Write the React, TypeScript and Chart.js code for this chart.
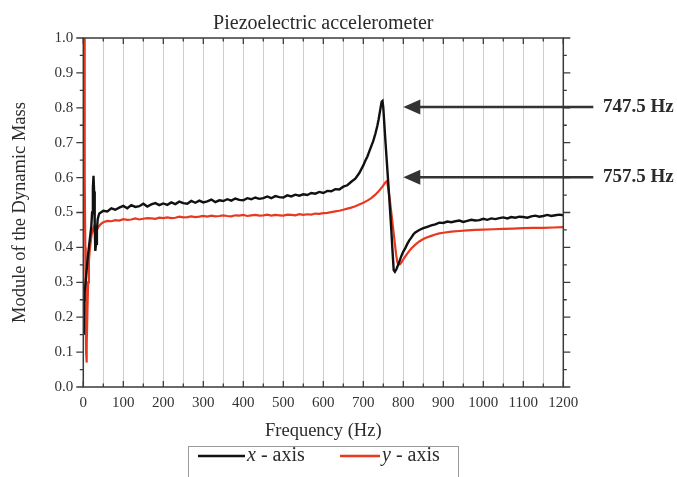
import React, { useEffect, useRef } from "react";
import { Chart, registerables } from "chart.js";

Chart.register(...registerables);

// ---- data ----
const xAxisFreq = [
  1.5, 2, 3, 5, 8, 11, 14, 17, 20, 22, 24, 25.5, 27, 28.5, 30, 32, 34, 36, 38,
  40, 50, 60, 70, 80, 90, 100, 110, 120, 130, 140, 150, 160, 170, 180, 190, 200,
  210, 220, 230, 240, 250, 260, 270, 280, 290, 300, 310, 320, 330, 340, 350, 360,
  370, 380, 390, 400, 410, 420, 430, 440, 450, 460, 470, 480, 490, 500, 510, 520,
  530, 540, 550, 560, 570, 580, 590, 600, 610, 620, 630, 640, 650, 660, 670, 680,
  690, 700, 705, 710, 715, 720, 725, 730, 735, 738, 741, 744, 746, 748, 750, 755,
  760, 765, 770, 773, 776, 779, 783, 787, 791, 795, 800, 805, 810, 815, 820, 825,
  830, 840, 850, 860, 870, 880, 890, 900, 910, 920, 930, 940, 950, 960, 970, 980,
  990, 1000, 1010, 1020, 1030, 1040, 1050, 1060, 1070, 1080, 1090, 1100, 1110,
  1120, 1130, 1140, 1150, 1160, 1170, 1180, 1190, 1200,
];
const xAxisModule = [
  0.15, 0.25, 0.27, 0.29, 0.33, 0.37, 0.4, 0.43, 0.46, 0.5, 0.57, 0.605, 0.56,
  0.47, 0.39, 0.41, 0.45, 0.48, 0.49,
  0.497, 0.505, 0.503, 0.512, 0.508, 0.514, 0.519, 0.512, 0.521, 0.516, 0.518,
  0.525, 0.517, 0.523, 0.527, 0.521, 0.526, 0.522, 0.529, 0.524, 0.531, 0.527,
  0.525, 0.533, 0.528, 0.534, 0.529, 0.532, 0.537, 0.53, 0.535, 0.533, 0.538,
  0.534, 0.54, 0.536, 0.535, 0.541, 0.538, 0.543, 0.539, 0.541, 0.546, 0.541,
  0.547, 0.544, 0.543, 0.549, 0.546, 0.551, 0.548, 0.552, 0.55, 0.556, 0.554,
  0.559, 0.556, 0.562, 0.561, 0.567, 0.566, 0.574, 0.578, 0.588, 0.597, 0.613,
  0.635, 0.648, 0.66, 0.675, 0.69, 0.705, 0.725, 0.748, 0.765, 0.785, 0.805,
  0.818, 0.82, 0.8, 0.71, 0.625, 0.54, 0.45, 0.39, 0.335, 0.33, 0.338, 0.35,
  0.362, 0.375, 0.388, 0.398, 0.41, 0.42, 0.428, 0.437, 0.443, 0.45, 0.455,
  0.459, 0.463, 0.466, 0.471, 0.47, 0.474, 0.472, 0.475, 0.477, 0.473, 0.476,
  0.479, 0.477, 0.478, 0.482, 0.479, 0.483, 0.481, 0.484, 0.486, 0.483, 0.487,
  0.485, 0.488, 0.487, 0.485, 0.489, 0.491, 0.488, 0.49, 0.493, 0.49, 0.492,
  0.494, 0.492,
];

const yAxisFreq = [
  2, 3, 4, 5, 6, 7, 8, 9, 10, 12, 14, 16, 18, 20, 23, 26, 29, 32, 36, 40, 45, 50,
  60, 70, 80, 90, 100, 110, 120, 130, 140, 150, 160, 170, 180, 190, 200, 210,
  220, 230, 240, 250, 260, 270, 280, 290, 300, 310, 320, 330, 340, 350, 360, 370,
  380, 390, 400, 410, 420, 430, 440, 450, 460, 470, 480, 490, 500, 510, 520, 530,
  540, 550, 560, 570, 580, 590, 600, 610, 620, 630, 640, 650, 660, 670, 680, 690,
  700, 710, 720, 730, 740, 745, 750, 755, 758, 760, 763, 767, 771, 775, 779, 782,
  785, 788, 792, 796, 800, 805, 810, 815, 820, 830, 840, 850, 860, 870, 880, 890,
  900, 920, 940, 960, 980, 1000, 1025, 1050, 1075, 1100, 1125, 1150, 1175, 1200,
];
const yAxisModule = [
  1.1, 0.85, 0.6, 0.4, 0.22, 0.1, 0.07, 0.12, 0.2, 0.3, 0.36, 0.39, 0.41, 0.43,
  0.45, 0.458, 0.44, 0.445, 0.455, 0.462, 0.468, 0.472,
  0.476, 0.475, 0.478, 0.477, 0.481, 0.479, 0.48, 0.483, 0.48, 0.482, 0.484,
  0.483, 0.482, 0.485, 0.484, 0.486, 0.484, 0.485, 0.488, 0.486, 0.487, 0.489,
  0.487, 0.488, 0.49, 0.488, 0.491, 0.489, 0.49, 0.492, 0.49, 0.489, 0.492,
  0.491, 0.493, 0.49, 0.492, 0.493, 0.491, 0.492, 0.494, 0.491, 0.493, 0.492,
  0.491, 0.494, 0.493, 0.492, 0.495, 0.493, 0.495, 0.494, 0.497, 0.496, 0.498,
  0.499, 0.501, 0.503, 0.505, 0.508, 0.511, 0.514, 0.518, 0.523,
  0.528, 0.534, 0.541, 0.551, 0.563, 0.57, 0.578, 0.586, 0.589, 0.585, 0.565,
  0.53, 0.49, 0.45, 0.41, 0.38, 0.358, 0.35, 0.352, 0.358, 0.366, 0.374, 0.382,
  0.39, 0.397, 0.408, 0.417, 0.424, 0.429, 0.433, 0.437, 0.44, 0.442, 0.445,
  0.447, 0.449, 0.45, 0.451, 0.452, 0.453, 0.454, 0.455, 0.456, 0.456, 0.457,
  0.458,
];

const seriesLabels = ["x", "y"];
const chartTitle = "Piezoelectric accelerometer";
const xTitle = "Frequency (Hz)";
const yTitle = "Module of the Dynamic Mass";
const peakLabels = ["747.5 Hz", "757.5 Hz"];
const arrowLevels = [0.802, 0.601];
const arrowTipHz = 800;
const arrowTailHz = 1275;
const labelHz = 1299;

const BLACK = "#111111";
const RED = "#e8391f";
const SERIF = '"Liberation Serif", "Times New Roman", serif';

const framePlugin = {
  id: "frame",
  afterDraw(chart: any) {
    const ctx = chart.ctx;
    const { left, right, top, bottom } = chart.chartArea;
    const xs = chart.scales.x;
    const ys = chart.scales.y;
    ctx.save();
    // frame
    ctx.strokeStyle = "#3a3a3a";
    ctx.lineWidth = 1.5;
    ctx.strokeRect(left, top, right - left, bottom - top);
    // x ticks (inward, top and bottom)
    ctx.lineWidth = 1.3;
    for (let v = 0; v <= 1200; v += 50) {
      const px = xs.getPixelForValue(v);
      const len = v % 100 === 0 ? 6 : 3.5;
      ctx.beginPath();
      ctx.moveTo(px, bottom);
      ctx.lineTo(px, bottom - len);
      ctx.moveTo(px, top);
      ctx.lineTo(px, top + len);
      ctx.stroke();
    }
    // y ticks (outward, left and right)
    for (let i = 0; i <= 20; i++) {
      const v = i * 0.05;
      const py = ys.getPixelForValue(v);
      const len = i % 2 === 0 ? 7 : 3.5;
      ctx.beginPath();
      ctx.moveTo(left, py);
      ctx.lineTo(left - len, py);
      ctx.moveTo(right, py);
      ctx.lineTo(right + len, py);
      ctx.stroke();
    }
    // titles
    ctx.fillStyle = "#2b2b2b";
    ctx.textAlign = "center";
    ctx.textBaseline = "middle";
    ctx.font = `20px ${SERIF}`;
    ctx.fillText(chartTitle, (left + right) / 2, 24);
    ctx.font = `18.5px ${SERIF}`;
    ctx.fillText(xTitle, (left + right) / 2, 431);
    ctx.save();
    ctx.translate(20, (top + bottom) / 2);
    ctx.rotate(-Math.PI / 2);
    ctx.fillText(yTitle, 0, 0);
    ctx.restore();

    // annotation arrows
    for (let i = 0; i < peakLabels.length; i++) {
      const py = ys.getPixelForValue(arrowLevels[i]);
      const tip = xs.getPixelForValue(arrowTipHz);
      const tail = xs.getPixelForValue(arrowTailHz);
      ctx.strokeStyle = "#333333";
      ctx.fillStyle = "#333333";
      ctx.lineWidth = 2.5;
      ctx.beginPath();
      ctx.moveTo(tip + 14, py);
      ctx.lineTo(tail, py);
      ctx.stroke();
      ctx.beginPath();
      ctx.moveTo(tip, py);
      ctx.lineTo(tip + 17, py - 7.5);
      ctx.lineTo(tip + 17, py + 7.5);
      ctx.closePath();
      ctx.fill();
      ctx.font = `bold 19px ${SERIF}`;
      ctx.textAlign = "left";
      ctx.fillStyle = "#2b2b2b";
      ctx.fillText(peakLabels[i], xs.getPixelForValue(labelHz), py);
    }

    // legend
    ctx.strokeStyle = "#9a9a9a";
    ctx.lineWidth = 1;
    ctx.strokeRect(188.5, 446.5, 270, 40);
    const ly = 456;
    const colors = [BLACK, RED];
    const lineStarts = [198, 340];
    const lineLens = [47, 40];
    for (let i = 0; i < seriesLabels.length; i++) {
      ctx.strokeStyle = colors[i];
      ctx.lineWidth = 2.5;
      ctx.beginPath();
      ctx.moveTo(lineStarts[i], ly);
      ctx.lineTo(lineStarts[i] + lineLens[i], ly);
      ctx.stroke();
      let tx = lineStarts[i] + lineLens[i] + 2;
      ctx.fillStyle = "#2b2b2b";
      ctx.textAlign = "left";
      ctx.font = `italic 20px ${SERIF}`;
      ctx.fillText(seriesLabels[i], tx, ly);
      tx += ctx.measureText(seriesLabels[i]).width;
      ctx.font = `20px ${SERIF}`;
      ctx.fillText(" - axis", tx, ly);
    }
    ctx.restore();
  },
};

export default function App() {
  const ref = useRef<HTMLCanvasElement | null>(null);
  useEffect(() => {
    if (!ref.current) return;
    const tickFont = { family: SERIF, size: 15 };
    const chart = new Chart(ref.current, {
      type: "line",
      data: {
        datasets: [
          {
            label: "x - axis",
            data: xAxisFreq.map((f, i) => ({ x: f, y: xAxisModule[i] })),
            borderColor: BLACK,
            borderWidth: 2.4,
            pointRadius: 0,
            tension: 0,
          },
          {
            label: "y - axis",
            data: yAxisFreq.map((f, i) => ({ x: f, y: yAxisModule[i] })),
            borderColor: RED,
            borderWidth: 2.2,
            pointRadius: 0,
            tension: 0,
          },
        ],
      },
      options: {
        animation: false,
        responsive: false,
        layout: { padding: { top: 38, right: 113.7, bottom: 0, left: 0 } },
        plugins: {
          legend: { display: false },
          title: { display: false },
          tooltip: { enabled: false },
        },
        scales: {
          x: {
            type: "linear",
            min: 0,
            max: 1200,
            afterFit: (s: any) => {
              s.height = 90;
            },
            ticks: {
              stepSize: 50,
              autoSkip: false,
              maxRotation: 0,
              padding: 7,
              font: tickFont,
              color: "#333",
              callback: (v: any) => (Number(v) % 100 === 0 ? String(v) : ""),
            },
            grid: { color: "#cdcdcd", lineWidth: 1, drawTicks: false },
            border: { display: false },
          },
          y: {
            min: 0,
            max: 1,
            afterFit: (s: any) => {
              s.width = 83.3;
            },
            ticks: {
              stepSize: 0.1,
              padding: 10,
              font: tickFont,
              color: "#333",
              callback: (v: any) => Number(v).toFixed(1),
            },
            grid: { display: false, drawTicks: false },
            border: { display: false },
          },
        },
      },
      plugins: [framePlugin],
    });
    return () => chart.destroy();
  }, []);
  return (
    <div
      style={{
        position: "fixed",
        left: 0,
        top: 0,
        width: 677,
        height: 477,
        background: "#fff",
      }}
    >
      <canvas ref={ref} width={677} height={477} style={{ width: 677, height: 477 }} />
    </div>
  );
}
